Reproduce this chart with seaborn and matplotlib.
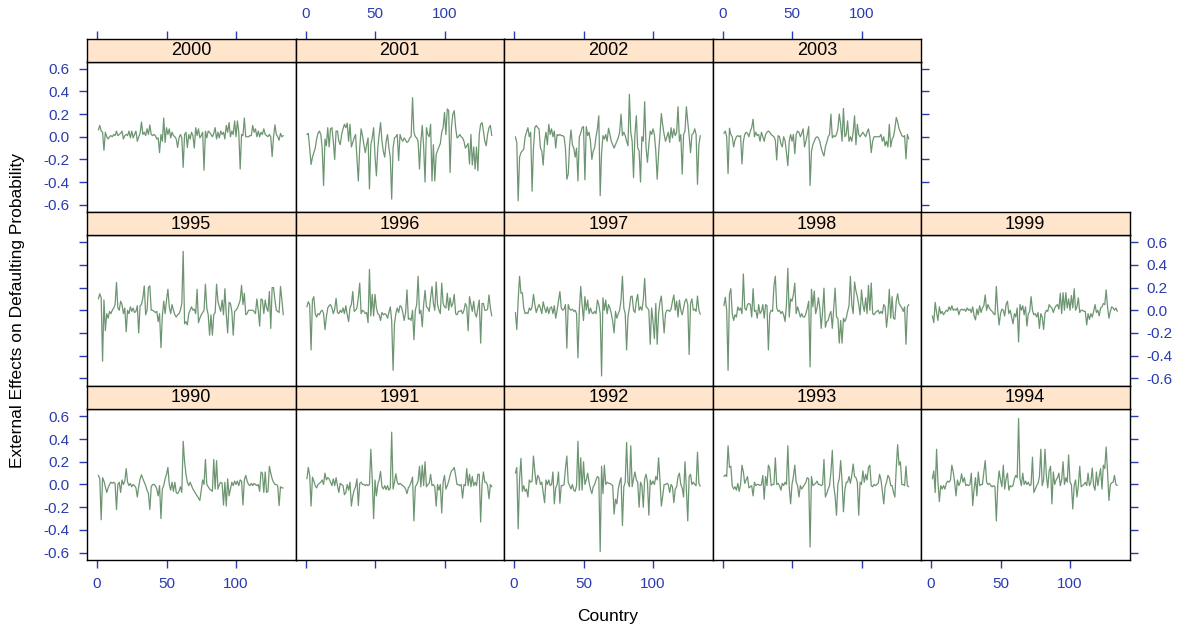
import numpy as np
import pandas as pd
import matplotlib
matplotlib.use("Agg")
import matplotlib.pyplot as plt
import seaborn as sns

countries = list(range(1, 135))

effects_1990 = [
    0.08, 0.05, -0.31, 0.06, 0.03, -0.02, -0.07, -0.03, 0.0, 0.02,
    0.01, 0.02, 0.01, -0.22, 0.0, 0.02, -0.07, 0.04, 0.0, 0.03,
    0.14, 0.02, -0.01, 0.01, -0.02, 0.0, -0.01, -0.03, -0.11, -0.02,
    0.05, 0.085, 0.05, 0.02, -0.01, -0.05, -0.08, -0.22, -0.02, 0.0,
    0.0, -0.01, -0.04, -0.10, -0.01, -0.30, -0.04, -0.01, 0.05, 0.09,
    0.15, 0.0, -0.05, 0.02, -0.06, 0.02, -0.07, -0.08, -0.06, -0.02,
    -0.07, 0.38, 0.2, 0.09, 0.02, -0.01, 0.02, -0.01, -0.04, -0.06,
    -0.08, -0.10, -0.12, -0.14, -0.05, 0.04, 0.0, 0.22, 0.0, -0.02,
    -0.04, -0.05, -0.06, 0.22, -0.04, 0.21, -0.04, 0.0, 0.02, 0.01,
    -0.18, 0.02, -0.19, 0.05, -0.1, -0.04, 0.02, -0.01, 0.03, 0.0,
    0.03, -0.01, 0.04, 0.03, -0.18, 0.04, 0.08, 0.03, 0.0, -0.01,
    0.01, -0.01, 0.01, 0.0, -0.01, 0.0, -0.06, 0.11, 0.10, -0.07,
    0.11, -0.07, -0.06, 0.16, 0.1, 0.05, 0.02, 0.0, 0.0, -0.01,
    -0.185, -0.02, -0.03, -0.03,
]
effects_1991 = [
    0.05, 0.15, 0.08, -0.19, 0.065, 0.03, -0.01, -0.03, 0.0, 0.01,
    0.02, 0.04, 0.0, 0.10, 0.04, 0.06, 0.05, 0.02, -0.01, 0.05,
    -0.01, 0.06, -0.01, -0.07, 0.01, 0.0, -0.01, -0.09, -0.07, 0.0,
    -0.05, 0.02, -0.19, -0.10, -0.05, -0.02, 0.05, -0.185, 0.01, 0.02,
    0.0, 0.0, -0.01, 0.0, -0.01, 0.0, 0.31, 0.05, -0.30, 0.04,
    -0.10, 0.0, 0.04, 0.115, -0.02, -0.04, -0.01, -0.045, -0.01, -0.05,
    -0.03, 0.46, -0.04, 0.02, 0.095, 0.02, 0.0, 0.01, 0.0, -0.01,
    -0.02, -0.04, -0.08, -0.03, -0.01, 0.02, 0.065, -0.32, -0.02, 0.0,
    0.03, 0.16, -0.02, 0.17, -0.01, 0.2, -0.02, 0.0, 0.01, 0.09,
    -0.01, 0.0, -0.02, -0.19, 0.0, -0.05, 0.0, -0.25, 0.02, 0.08,
    -0.04, -0.01, 0.03, 0.08, 0.12, 0.13, 0.15, 0.08, 0.0, 0.0,
    -0.01, 0.0, -0.12, 0.0, -0.01, 0.14, -0.01, 0.09, -0.02, 0.07,
    -0.01, 0.02, -0.01, 0.09, 0.09, -0.33, 0.0, 0.11, 0.02, 0.02,
    -0.01, -0.125, 0.0, -0.02,
]
effects_1992 = [
    0.10, 0.15, -0.39, 0.05, 0.23, -0.06, -0.01, -0.06, -0.04, -0.11,
    0.04, 0.02, 0.03, 0.25, 0.11, 0.0, 0.08, 0.06, 0.0, 0.02,
    -0.07, -0.16, 0.04, 0.0, 0.04, -0.01, 0.0, 0.11, -0.17, -0.03,
    0.0, 0.11, -0.165, -0.01, -0.01, 0.0, 0.14, 0.25, 0.02, -0.01,
    -0.04, 0.0, -0.05, -0.06, -0.01, 0.38, -0.05, 0.235, -0.05, 0.2,
    0.0, 0.04, 0.1, 0.02, -0.04, -0.08, -0.02, 0.0, 0.04, 0.07,
    0.06, -0.59, 0.16, -0.08, 0.17, 0.0, 0.02, 0.01, 0.01, 0.0,
    -0.01, -0.26, -0.13, -0.17, -0.04, 0.02, 0.06, -0.36, -0.02, 0.02,
    0.37, 0.02, -0.02, 0.34, -0.02, 0.05, 0.11, 0.04, 0.02, -0.2,
    0.02, -0.01, -0.2, 0.05, 0.09, 0.02, -0.27, 0.04, 0.0, 0.03,
    0.0, 0.07, 0.04, 0.235, 0.04, -0.19, -0.1, 0.0, 0.0, 0.01,
    0.0, -0.07, 0.0, -0.02, -0.16, -0.04, -0.02, 0.07, 0.1, 0.0,
    -0.03, -0.11, 0.2, -0.04, -0.32, 0.07, 0.09, 0.0, 0.02, 0.0,
    -0.01, 0.285, 0.01, -0.015,
]
effects_1993 = [
    0.07, 0.085, 0.07, 0.34, 0.15, 0.16, -0.01, -0.04, -0.02, -0.05,
    0.01, -0.06, 0.0, 0.17, 0.11, 0.01, 0.04, 0.07, -0.03, -0.02,
    -0.01, -0.1, 0.02, -0.01, 0.0, 0.0, -0.01, 0.0, 0.08, -0.13,
    0.07, -0.01, 0.17, 0.14, -0.01, 0.0, 0.0, 0.235, 0.0, 0.01,
    -0.01, -0.05, 0.01, -0.01, 0.02, 0.0, 0.34, -0.02, -0.17, 0.0,
    0.07, 0.17, 0.02, -0.01, -0.11, -0.01, -0.04, -0.02, 0.0, 0.02,
    0.06, 0.05, -0.55, 0.07, -0.01, 0.0, 0.01, 0.03, 0.0, 0.0,
    -0.01, 0.0, 0.22, -0.11, -0.08, -0.04, -0.01, 0.11, 0.30, -0.01,
    -0.10, -0.27, 0.0, 0.05, 0.21, 0.03, -0.24, -0.05, 0.02, 0.02,
    0.07, 0.01, 0.08, 0.18, 0.07, 0.06, 0.02, -0.27, 0.02, 0.0,
    0.12, 0.02, 0.09, 0.04, 0.15, 0.17, -0.01, -0.02, 0.0, -0.01,
    0.0, 0.01, 0.09, 0.04, -0.06, -0.17, -0.02, 0.02, 0.08, 0.06,
    -0.01, -0.01, -0.07, -0.11, 0.15, 0.35, 0.17, 0.2, 0.0, 0.0,
    -0.01, 0.16, -0.01, -0.02,
]
effects_1994 = [
    0.05, 0.12, -0.07, 0.31, 0.02, -0.15, -0.01, -0.04, -0.01, -0.04,
    0.01, 0.03, 0.02, 0.04, 0.17, 0.11, 0.02, -0.1, 0.04, -0.01,
    0.02, 0.095, 0.02, 0.06, -0.01, 0.0, -0.01, 0.0, 0.10, -0.185,
    -0.04, 0.06, -0.1, 0.11, -0.01, 0.0, 0.0, 0.11, 0.21, 0.02,
    0.0, 0.01, -0.01, -0.02, -0.01, -0.02, -0.32, -0.01, 0.12, 0.04,
    -0.02, 0.17, -0.04, 0.05, 0.1, -0.05, -0.01, -0.02, -0.01, 0.05,
    0.08, 0.06, 0.58, 0.05, -0.01, 0.1, 0.0, 0.03, 0.0, 0.02,
    -0.01, 0.0, 0.24, -0.07, -0.04, -0.01, 0.01, 0.07, 0.31, -0.01,
    0.04, 0.31, 0.08, -0.03, 0.12, 0.16, -0.17, 0.11, 0.0, 0.04,
    0.06, 0.10, -0.01, 0.04, 0.2, 0.0, 0.06, 0.02, 0.26, 0.02,
    0.0, -0.215, -0.01, 0.04, -0.11, -0.01, 0.16, -0.02, -0.01, 0.0,
    0.02, -0.01, 0.10, -0.01, 0.02, 0.145, -0.01, -0.05, 0.11, -0.01,
    0.07, 0.14, -0.04, 0.17, 0.14, 0.33, 0.11, -0.14, 0.0, 0.015,
    0.02, 0.08, 0.0, -0.01,
]
effects_1995 = [
    0.10, 0.145, 0.11, -0.45, 0.09, -0.18, -0.03, -0.07, -0.01, -0.03,
    0.0, 0.02, 0.05, 0.245, 0.02, 0.0, 0.08, 0.05, -0.03, 0.02,
    -0.19, 0.0, -0.03, 0.03, -0.01, 0.02, -0.02, -0.01, 0.04, -0.2,
    0.04, 0.05, 0.11, 0.215, -0.04, 0.0, 0.2, 0.215, 0.0, 0.0,
    -0.01, -0.02, -0.01, -0.1, -0.03, -0.33, -0.05, 0.08, -0.03, 0.09,
    0.185, 0.03, -0.03, 0.05, 0.0, -0.04, -0.06, -0.04, -0.03, 0.0,
    0.06, 0.52, -0.12, -0.1, -0.13, -0.03, 0.0, 0.03, 0.0, 0.01,
    -0.03, 0.185, -0.11, -0.07, -0.04, -0.02, 0.0, 0.23, 0.02, -0.04,
    -0.22, -0.04, -0.22, -0.04, -0.02, 0.23, 0.08, 0.03, -0.01, 0.09,
    -0.04, 0.19, -0.04, -0.2, 0.07, 0.06, -0.01, -0.22, -0.01, 0.0,
    0.02, 0.05, 0.09, 0.22, 0.05, 0.15, -0.04, -0.03, 0.0, 0.0,
    0.0, 0.0, -0.01, -0.03, 0.1, 0.0, -0.14, 0.1, 0.09, -0.03,
    0.09, 0.02, -0.01, 0.165, -0.16, 0.2, 0.2, 0.09, 0.0, -0.01,
    -0.02, 0.21, 0.09, -0.04,
]
effects_1996 = [
    0.03, 0.075, 0.05, -0.35, 0.09, 0.12, -0.03, -0.06, -0.03, -0.04,
    -0.01, 0.0, -0.03, -0.17, -0.06, 0.02, 0.04, 0.05, 0.02, -0.03,
    0.01, 0.105, -0.02, -0.03, 0.0, -0.02, 0.02, -0.03, 0.04, -0.04,
    -0.1, 0.02, 0.05, 0.165, -0.01, 0.0, 0.02, 0.11, 0.24, -0.03,
    0.0, -0.01, -0.03, -0.02, -0.11, 0.36, -0.05, 0.14, -0.05, 0.14,
    0.02, -0.03, -0.04, -0.09, -0.02, -0.04, -0.03, -0.04, -0.07, -0.02,
    0.03, -0.09, -0.53, -0.12, -0.03, 0.02, -0.02, 0.04, 0.03, -0.02,
    -0.09, -0.02, 0.18, -0.08, -0.07, -0.09, 0.0, -0.26, 0.0, 0.05,
    0.3, -0.03, 0.0, -0.145, 0.05, 0.175, 0.03, 0.02, -0.01, 0.11,
    0.21, 0.06, 0.0, 0.25, 0.05, 0.0, -0.03, 0.24, 0.06, 0.03,
    0.02, 0.15, 0.0, 0.11, 0.03, 0.06, 0.14, -0.03, -0.04, -0.01,
    -0.01, 0.0, -0.03, 0.0, 0.06, 0.03, -0.18, 0.12, 0.05, -0.01,
    0.08, -0.03, -0.06, 0.02, 0.09, -0.29, 0.06, 0.06, 0.0, 0.0,
    0.01, 0.135, 0.02, -0.05,
]
effects_1997 = [
    -0.02, -0.17, 0.09, 0.30, 0.15, 0.155, 0.02, -0.03, -0.02, -0.03,
    0.02, 0.0, 0.03, 0.14, 0.05, -0.02, 0.02, 0.05, 0.02, -0.03,
    0.075, 0.02, -0.02, 0.03, -0.03, 0.02, 0.03, -0.03, 0.04, -0.07,
    0.0, 0.08, 0.165, 0.02, 0.0, 0.01, 0.05, -0.335, 0.05, 0.01,
    0.0, 0.01, -0.01, 0.0, -0.03, -0.42, 0.0, 0.21, 0.05, -0.09,
    0.12, 0.0, 0.09, -0.03, 0.02, -0.02, -0.03, -0.01, -0.03, 0.09,
    0.05, -0.03, -0.58, 0.11, 0.0, 0.09, -0.03, 0.05, 0.02, -0.03,
    -0.1, -0.2, -0.01, -0.07, -0.03, 0.0, 0.09, 0.30, 0.02, -0.03,
    -0.35, -0.06, 0.02, 0.12, 0.125, 0.0, -0.02, 0.08, 0.14, 0.0,
    0.03, 0.0, 0.09, 0.28, 0.03, 0.02, 0.0, -0.3, 0.02, -0.1,
    -0.25, 0.06, -0.3, -0.03, 0.07, 0.125, -0.03, -0.2, -0.03, 0.0,
    0.0, -0.01, 0.01, 0.08, 0.135, 0.0, 0.08, -0.06, 0.09, 0.0,
    -0.04, 0.02, 0.08, 0.1, 0.05, -0.39, 0.06, 0.1, 0.0, 0.01,
    -0.01, 0.125, 0.0, -0.035,
]
effects_1998 = [
    0.04, 0.115, 0.0, -0.53, 0.14, 0.19, -0.03, -0.09, -0.04, -0.06,
    0.03, 0.0, 0.02, -0.03, 0.32, 0.02, 0.0, 0.05, 0.06, 0.05,
    -0.06, 0.19, -0.01, 0.0, -0.07, 0.05, -0.03, -0.01, 0.05, -0.07,
    0.05, 0.04, -0.35, -0.03, 0.0, -0.01, 0.215, 0.30, 0.02, -0.01,
    0.0, -0.03, -0.01, -0.04, -0.1, 0.05, 0.37, -0.06, 0.1, 0.08,
    0.14, 0.24, -0.03, 0.03, -0.01, -0.06, -0.03, -0.06, -0.06, -0.03,
    0.02, 0.08, -0.5, 0.185, 0.03, 0.17, -0.03, 0.02, 0.11, 0.02,
    -0.16, -0.01, 0.195, -0.15, -0.1, -0.09, -0.04, -0.01, -0.16, 0.02,
    0.195, -0.06, -0.07, -0.29, -0.09, -0.29, -0.07, -0.1, -0.07, -0.01,
    0.04, 0.30, 0.05, -0.03, 0.25, 0.17, 0.12, 0.05, -0.04, 0.18,
    0.05, -0.01, 0.11, -0.03, 0.22, 0.0, 0.24, -0.03, -0.04, -0.02,
    -0.01, 0.0, -0.03, -0.01, -0.03, 0.05, 0.03, -0.15, -0.03, 0.185,
    -0.07, 0.12, -0.07, -0.08, 0.08, 0.145, 0.06, 0.04, 0.02, -0.01,
    0.03, -0.3, 0.03, 0.05,
]
effects_1999 = [
    -0.05, -0.11, 0.07, -0.02, -0.09, 0.03, -0.03, -0.01, -0.04, -0.02,
    0.0, -0.01, 0.03, 0.0, 0.04, 0.0, 0.01, 0.0, 0.02, -0.04,
    0.0, 0.01, 0.0, 0.01, -0.01, 0.02, 0.0, 0.01, -0.02, 0.03,
    -0.05, -0.085, 0.01, -0.04, 0.04, -0.02, 0.02, 0.04, 0.135, 0.0,
    0.05, 0.02, 0.0, -0.01, -0.03, -0.04, 0.21, 0.0, -0.13, -0.03,
    0.01, 0.0, -0.05, 0.05, 0.08, -0.03, 0.0, -0.06, -0.12, -0.03,
    -0.06, 0.02, -0.28, 0.05, 0.0, 0.04, -0.04, 0.03, -0.14, -0.03,
    -0.01, 0.12, 0.0, -0.04, -0.03, -0.06, -0.02, -0.16, -0.03, -0.06,
    -0.17, -0.03, 0.0, -0.01, 0.05, 0.03, 0.02, -0.02, 0.02, 0.04,
    0.05, 0.01, 0.15, -0.03, 0.155, 0.0, 0.155, 0.02, 0.1, 0.0,
    0.13, 0.02, 0.19, 0.0, 0.03, 0.11, -0.02, 0.0, 0.0, -0.01,
    -0.01, -0.13, -0.03, -0.08, -0.03, -0.06, -0.01, 0.05, -0.02, 0.0,
    -0.05, 0.02, 0.03, 0.06, 0.05, 0.18, 0.03, -0.07, -0.01, 0.03,
    0.02, 0.0, 0.02, -0.01,
]
effects_2000 = [
    0.06, 0.1, 0.05, 0.04, -0.12, 0.04, 0.0, -0.02, 0.0, 0.01,
    0.0, 0.02, 0.01, 0.05, 0.01, 0.02, 0.03, 0.05, -0.02, 0.01,
    0.02, 0.01, 0.05, -0.01, 0.05, -0.01, 0.02, 0.05, -0.04, 0.0,
    0.03, 0.13, 0.02, 0.04, 0.01, 0.07, 0.02, 0.105, 0.02, 0.01,
    0.02, 0.01, -0.02, -0.01, -0.14, 0.02, -0.04, 0.165, -0.05, 0.08,
    0.02, 0.07, -0.01, 0.04, 0.01, 0.0, -0.02, -0.095, -0.01, 0.02,
    -0.01, -0.27, 0.02, 0.04, -0.095, 0.02, -0.02, 0.04, 0.01, -0.1,
    0.08, 0.01, 0.07, -0.01, 0.01, 0.04, -0.295, 0.05, -0.01, 0.05,
    0.04, 0.02, 0.0, 0.03, 0.08, -0.02, 0.04, -0.01, 0.05, 0.02,
    0.04, -0.02, 0.1, 0.04, 0.125, 0.0, 0.05, 0.02, 0.14, 0.0,
    0.14, 0.04, -0.285, 0.02, 0.01, 0.165, 0.0, 0.0, 0.0, 0.01,
    0.01, 0.1, 0.04, 0.07, 0.0, 0.05, 0.0, 0.04, 0.02, 0.07,
    0.02, 0.01, 0.0, 0.02, 0.0, -0.175, 0.0, 0.105, 0.02, 0.0,
    -0.03, 0.03, 0.0, 0.01,
]
effects_2001 = [
    0.02, 0.03, -0.1, -0.245, -0.18, -0.14, -0.1, -0.02, 0.03, 0.05,
    0.02, -0.1, -0.43, -0.02, -0.08, 0.08, -0.09, 0.07, 0.08, -0.04,
    -0.2, 0.05, 0.05, -0.04, -0.07, 0.02, 0.07, 0.11, 0.08, 0.12,
    -0.04, 0.11, -0.09, -0.05, -0.01, 0.02, -0.18, -0.39, -0.1, 0.07,
    0.01, -0.07, -0.14, -0.07, -0.01, -0.46, -0.07, -0.01, 0.08, -0.17,
    -0.345, -0.1, 0.02, 0.125, -0.04, -0.13, -0.18, -0.04, 0.02, -0.1,
    -0.18, -0.55, -0.1, -0.01, 0.0, 0.02, -0.21, 0.02, -0.02, -0.04,
    -0.01, -0.03, -0.05, -0.04, -0.01, 0.0, 0.345, 0.04, 0.0, -0.01,
    -0.04, -0.285, -0.04, 0.1, -0.09, -0.40, 0.08, 0.02, 0.0, 0.11,
    -0.39, -0.07, -0.39, -0.16, -0.12, -0.09, -0.06, 0.04, 0.08, 0.215,
    0.02, 0.245, 0.23, -0.315, 0.08, 0.2, 0.23, 0.08, -0.01, 0.0,
    0.02, 0.0, -0.01, -0.04, -0.1, -0.08, -0.06, -0.24, 0.02, -0.25,
    -0.09, -0.285, -0.09, -0.3, 0.02, 0.11, 0.125, 0.05, -0.04, -0.08,
    0.02, 0.08, 0.1, 0.01,
]
effects_2002 = [
    0.0, -0.05, -0.565, -0.18, -0.14, -0.125, -0.11, 0.0, 0.04, 0.08,
    0.0, 0.04, -0.48, -0.1, 0.08, 0.1, 0.08, 0.07, -0.1, -0.125,
    -0.25, -0.04, 0.04, -0.07, 0.11, 0.02, 0.07, 0.0, 0.05, -0.1,
    0.02, 0.01, 0.02, 0.01, 0.01, 0.0, -0.1, -0.375, -0.33, -0.07,
    0.06, -0.07, -0.1, -0.18, -0.1, -0.39, 0.0, 0.03, 0.08, 0.09,
    -0.38, 0.09, 0.01, 0.04, -0.04, -0.2, -0.125, -0.1, 0.0, 0.07,
    0.185, -0.52, -0.14, 0.01, -0.02, 0.02, -0.04, 0.075, 0.02, -0.04,
    -0.07, -0.1, -0.07, -0.04, -0.01, 0.04, 0.2, 0.01, 0.04, 0.01,
    -0.04, -0.08, 0.375, 0.04, -0.04, -0.36, 0.02, 0.185, -0.1, -0.125,
    -0.4, 0.0, -0.04, 0.31, -0.1, -0.225, -0.07, 0.05, 0.02, 0.07,
    0.02, -0.125, -0.375, -0.15, 0.02, 0.205, 0.1, 0.02, -0.04, 0.0,
    0.04, -0.05, 0.08, -0.01, 0.07, 0.01, 0.04, 0.265, -0.04, 0.02,
    -0.33, 0.02, 0.05, 0.265, 0.13, 0.01, -0.14, 0.02, 0.03, 0.07,
    0.02, -0.42, -0.07, 0.01,
]
effects_2003 = [
    0.03, 0.05, 0.0, -0.325, 0.075, 0.02, 0.0, -0.09, -0.03, 0.0,
    0.01, 0.0, 0.01, -0.24, -0.04, 0.02, 0.04, 0.03, 0.0, 0.05,
    0.08, 0.155, 0.0, 0.04, 0.01, 0.02, -0.04, 0.04, 0.0, -0.04,
    0.02, 0.04, 0.05, 0.04, 0.02, 0.01, 0.0, -0.03, -0.205, 0.01,
    0.0, -0.06, -0.09, 0.0, -0.035, -0.14, -0.255, -0.04, 0.02, -0.04,
    0.02, -0.15, 0.02, 0.05, 0.04, 0.0, 0.03, 0.07, -0.09, -0.04,
    0.02, 0.09, -0.43, -0.13, -0.07, -0.04, -0.01, 0.0, -0.01, -0.04,
    -0.1, -0.14, -0.17, -0.09, -0.05, 0.0, 0.02, 0.2, -0.01, 0.01,
    0.0, 0.02, 0.07, 0.2, 0.11, -0.04, 0.25, 0.0, 0.02, 0.14,
    -0.04, 0.0, -0.04, 0.04, 0.185, -0.07, 0.11, 0.02, 0.0, 0.02,
    0.04, 0.02, 0.0, 0.04, 0.07, 0.0, -0.14, -0.04, 0.0, 0.0,
    0.0, 0.0, 0.0, 0.02, -0.04, 0.0, -0.08, -0.04, -0.09, 0.11,
    -0.09, -0.02, 0.0, 0.07, 0.17, 0.13, 0.07, 0.04, 0.01, 0.0,
    0.01, -0.195, 0.02, -0.02,
]

years = list(range(1990, 2004))
effects_by_year = {
    1990: effects_1990, 1991: effects_1991, 1992: effects_1992,
    1993: effects_1993, 1994: effects_1994, 1995: effects_1995,
    1996: effects_1996, 1997: effects_1997, 1998: effects_1998,
    1999: effects_1999, 2000: effects_2000, 2001: effects_2001,
    2002: effects_2002, 2003: effects_2003,
}

x_ticks = [0, 50, 100]
x_tick_labels = ["0", "50", "100"]
y_ticks = [-0.6, -0.4, -0.2, 0.0, 0.2, 0.4, 0.6]
y_tick_labels = ["-0.6", "-0.4", "-0.2", "0.0", "0.2", "0.4", "0.6"]

frames = []
for yr in years:
    vals = effects_by_year[yr]
    assert len(vals) == len(countries), (yr, len(vals))
    frames.append(pd.DataFrame({"country": countries, "effect": vals, "year": yr}))
df = pd.concat(frames, ignore_index=True)

sns.set_style("white")
plt.rcParams["font.family"] = ["Liberation Sans", "DejaVu Sans"]

LINE = "#6E9572"
AXIS_BLUE = "#2A3BB0"
STRIP_BG = "#FFE5CC"

W, H = 1190, 630
fig = plt.figure(figsize=(W / 100, H / 100), dpi=100)

col_edges = [87, 295.5, 504, 712.5, 921, 1129.5]
strip_tops = [38.5, 212.0, 385.5]
panel_tops = [61.5, 235.0, 409.0]
panel_bottoms = [212.0, 385.5, 560.0]

XLIM = (-7.2, 142.8)
YLIM = (-0.664, 0.664)


def rect(x0, x1, ytop, ybot):
    return [x0 / W, 1 - ybot / H, (x1 - x0) / W, (ybot - ytop) / H]


def style_ticks(ax):
    ax.tick_params(axis="both", which="both", direction="out", length=5.8,
                   width=1.0, color=AXIS_BLUE, labelcolor=AXIS_BLUE,
                   labelsize=11, pad=6.5,
                   left=False, right=False, top=False, bottom=False,
                   labelleft=False, labelright=False,
                   labeltop=False, labelbottom=False)


for r in range(3):
    for c in range(5):
        yr = 1990 + (2 - r) * 5 + c
        if yr > 2003:
            continue
        x0, x1 = col_edges[c], col_edges[c + 1]

        ax = fig.add_axes(rect(x0, x1, panel_tops[r], panel_bottoms[r]))
        sns.lineplot(data=df[df["year"] == yr], x="country", y="effect",
                     ax=ax, color=LINE, linewidth=0.9, estimator=None,
                     sort=False)
        ax.set_xlim(*XLIM)
        ax.set_ylim(*YLIM)
        ax.set_xlabel("")
        ax.set_ylabel("")
        ax.set_xticks(x_ticks)
        ax.set_xticklabels(x_tick_labels)
        ax.set_yticks(y_ticks)
        ax.set_yticklabels(y_tick_labels)
        ax.set_facecolor("white")
        for sp in ax.spines.values():
            sp.set_color("black")
            sp.set_linewidth(1.0)
        style_ticks(ax)

        # alternating axes, lattice style
        if c == 0:
            ax.tick_params(axis="y", left=True, labelleft=(r != 1))
        last_in_row = (c == 4) or (r == 0 and c == 3)
        if last_in_row:
            ax.tick_params(axis="y", right=True, labelright=(r == 1))
        if r == 2:
            ax.tick_params(axis="x", bottom=True, labelbottom=(c % 2 == 0))

        # strip with the year
        sx = fig.add_axes(rect(x0, x1, strip_tops[r], panel_tops[r]))
        sx.set_facecolor(STRIP_BG)
        sx.set_xlim(*XLIM)
        sx.set_ylim(0, 1)
        sx.set_yticks([])
        sx.set_xticks(x_ticks)
        sx.set_xticklabels(x_tick_labels)
        for sp in sx.spines.values():
            sp.set_color("black")
            sp.set_linewidth(1.0)
        style_ticks(sx)
        if r == 0:
            sx.tick_params(axis="x", top=True, labeltop=(c % 2 == 1))
        sx.text(0.5, 0.47, str(yr), transform=sx.transAxes, ha="center",
                va="center", fontsize=13, color="black")

fig.text(608 / W, 1 - 617 / H, "Country", ha="center", va="center",
         fontsize=12.5, color="black")
fig.text(18 / W, 1 - 310 / H, "External Effects on Defaulting Probability",
         ha="center", va="center", rotation=90, fontsize=12.5, color="black")

fig.savefig("out.png", dpi=100)
